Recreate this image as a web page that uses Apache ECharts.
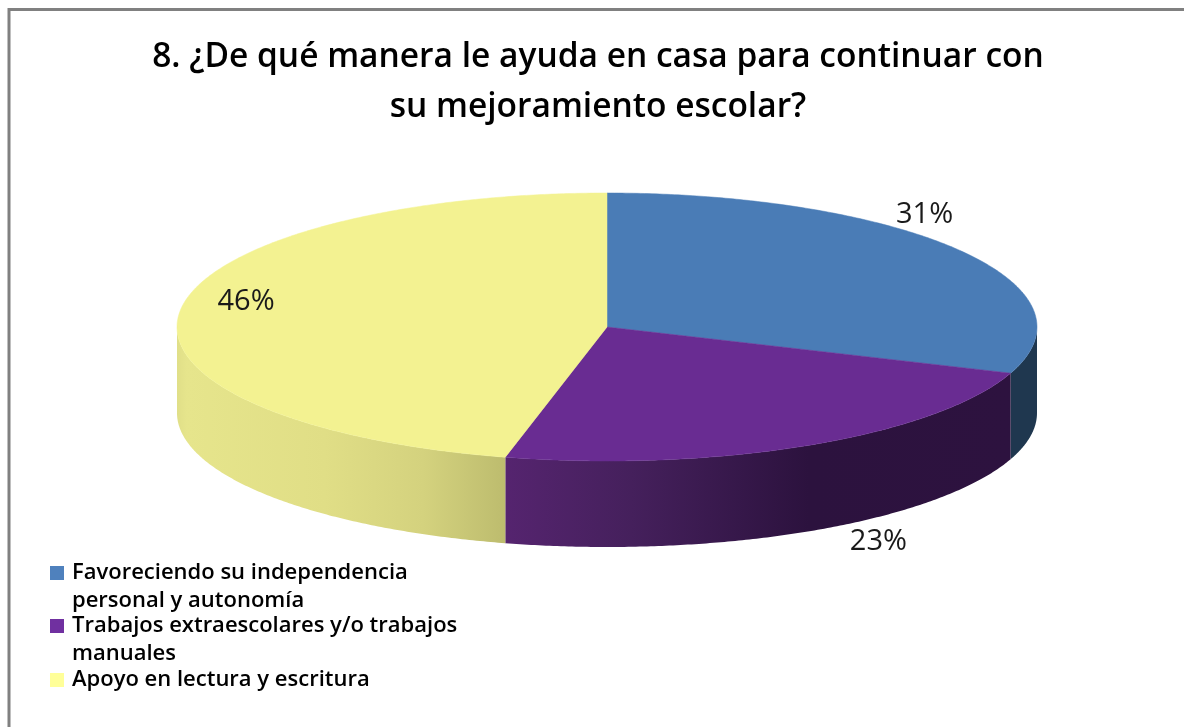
<!DOCTYPE html>
<html>
<head>
<meta charset="utf-8">
<style>html,body{margin:0;padding:0;background:#fff}#c{width:1184px;height:727px}</style>
<script src="https://cdn.jsdelivr.net/npm/echarts@6/dist/echarts.min.js"></script>
</head>
<body>
<div id="c"></div>
<script>
var titleLines = ["8. ¿De qué manera le ayuda en casa para continuar con", "su mejoramiento escolar?"];
var legendLines = [
  ["Favoreciendo su independencia", "personal y autonomía"],
  ["Trabajos extraescolares y/o trabajos", "manuales"],
  ["Apoyo en lectura y escritura"]
];
var values = [30.6, 23.2, 46.2];

var topColors = ["#4A7CB6", "#692C92", "#F3F291"];
var legendColors = ["#4F81BD", "#7030A0", "#FFFF99"];
var wallStops = [
  [[0, "#1F374F"], [1, "#1F374F"]],
  [[0, "#55246F"], [0.25, "#45205C"], [0.6, "#2C123E"], [1, "#2D123F"]],
  [[0, "#E0DF88"], [0.03, "#E6E58C"], [0.45, "#E0DE86"], [0.75, "#D4D27E"], [1, "#BDBC6E"]]
];
var labelOffsets = [[-35, -36], [69, 97], [66, -9]];
var legendTops = [526, 579, 661];
var depth = 86;
var FONT = '"Open Sans", sans-serif';

var total = values.reduce(function (a, b) { return a + b; }, 0);
var starts = [];
values.reduce(function (acc, v, i) { starts[i] = acc; return acc + v; }, 0);

function renderSlice(params, api) {
  var val = api.value(0), start = api.value(1);
  var i = params.seriesIndex;
  var a0 = start / total * 360, a1 = (start + val) / total * 360;
  function pt(deg) {
    var r = deg * Math.PI / 180;
    return api.coord([Math.sin(r), Math.cos(r)]);
  }
  var children = [];
  var w0 = Math.max(a0, 90), w1 = Math.min(a1, 270);
  if (w1 > w0) {
    var upper = [], lower = [];
    for (var d = w0; d < w1; d += 0.5) { upper.push(pt(d)); }
    upper.push(pt(w1));
    upper.forEach(function (p) { lower.unshift([p[0], p[1] + depth]); });
    var xs = upper.map(function (p) { return p[0]; });
    var xa = Math.min.apply(null, xs), xb = Math.max.apply(null, xs);
    var stops = wallStops[i].map(function (s) { return { offset: s[0], color: s[1] }; });
    var fill = new echarts.graphic.LinearGradient(xa, 0, xb, 0, stops, true);
    children.push({
      type: "polygon",
      shape: { points: upper.concat(lower) },
      style: { fill: fill }
    });
  }
  var pts = [api.coord([0, 0])];
  for (var t = a0; t < a1; t += 0.5) { pts.push(pt(t)); }
  pts.push(pt(a1));
  children.push({
    type: "polygon",
    shape: { points: pts },
    style: { fill: topColors[i], stroke: topColors[i], lineWidth: 0.5 }
  });
  var mid = pt((a0 + a1) / 2);
  children.push({
    type: "text",
    z2: 10,
    style: {
      x: mid[0] + labelOffsets[i][0],
      y: mid[1] + labelOffsets[i][1],
      text: Math.round(val / total * 100) + "%",
      font: '29px ' + FONT,
      fill: "#1a1a1a",
      align: "center",
      verticalAlign: "middle"
    }
  });
  return { type: "group", children: children };
}

var names = legendLines.map(function (l) { return l.join(" "); });

var option = {
  backgroundColor: "#fff",
  animation: false,
  title: {
    text: titleLines.join("\n"),
    left: 593,
    top: 27,
    textAlign: "center",
    textStyle: { fontFamily: FONT, fontWeight: 600, fontSize: 33.5, lineHeight: 50, color: "#000" }
  },
  grid: { left: 177, width: 860, top: 193, height: 268 },
  xAxis: { type: "value", min: -1, max: 1, show: false },
  yAxis: { type: "value", min: -1, max: 1, show: false },
  legend: names.map(function (n, i) {
    return {
      orient: "vertical",
      left: 45,
      top: legendTops[i],
      itemWidth: 14,
      itemHeight: 14,
      itemGap: 0,
      selectedMode: false,
      icon: "rect",
      data: [{ name: n, itemStyle: { color: legendColors[i] } }],
      formatter: function () {
        var l = legendLines[i];
        return l.length > 1 ? "\n" + l.join("\n") : l[0];
      },
      textStyle: { fontFamily: FONT, fontSize: 22, lineHeight: 28, color: "#000", fontWeight: 600, padding: [0, 0, 0, 3] }
    };
  }),
  series: values.map(function (v, i) {
    return {
      type: "custom",
      name: names[i],
      coordinateSystem: "cartesian2d",
      silent: true,
      itemStyle: { color: legendColors[i] },
      encode: { x: 0, y: 1 },
      data: [[v, starts[i]]],
      clip: false,
      renderItem: renderSlice
    };
  }),
  graphic: [
    { type: "line", shape: { x1: 8, y1: 9.5, x2: 1184, y2: 9.5 }, style: { stroke: "#808080", lineWidth: 3 } },
    { type: "line", shape: { x1: 9, y1: 8, x2: 9, y2: 727 }, style: { stroke: "#808080", lineWidth: 3 } }
  ]
};
var chart = echarts.init(document.getElementById("c"), null, { renderer: "canvas" });
chart.setOption(option);
</script>
</body>
</html>
